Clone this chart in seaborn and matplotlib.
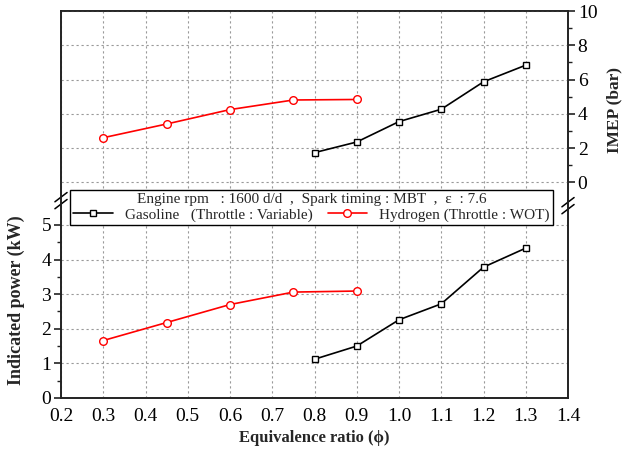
import pandas as pd
import matplotlib
matplotlib.use('Agg')
import matplotlib.pyplot as plt
from matplotlib.lines import Line2D
from matplotlib.ticker import MultipleLocator, FixedLocator
import seaborn as sns

# IMEP (bar), upper part, right axis
imep_h2_phi = [0.3, 0.45, 0.6, 0.75, 0.9]
imep_h2 = [2.61, 3.41, 4.25, 4.81, 4.84]
imep_gas_phi = [0.8, 0.9, 1.0, 1.1, 1.2, 1.3]
imep_gas = [1.74, 2.36, 3.55, 4.27, 5.87, 6.84]

# Indicated power (kW), lower part, left axis
pow_h2_phi = [0.3, 0.45, 0.6, 0.75, 0.9]
pow_h2 = [1.66, 2.18, 2.70, 3.06, 3.09]
pow_gas_phi = [0.8, 0.9, 1.0, 1.1, 1.2, 1.3]
pow_gas = [1.12, 1.50, 2.26, 2.72, 3.78, 4.33]

x_ticks = [0.2, 0.3, 0.4, 0.5, 0.6, 0.7, 0.8, 0.9, 1.0, 1.1, 1.2, 1.3, 1.4]
power_ticks = [0, 1, 2, 3, 4, 5]
imep_ticks = [0, 2, 4, 6, 8, 10]

gas_label = "Gasoline   (Throttle : Variable)"
h2_label = "Hydrogen (Throttle : WOT)"
legend_title = "Engine rpm   : 1600 d/d  ,  Spark timing : MBT  ,  \u03b5  : 7.6"

sns.set_theme(style="white")
plt.rcParams['font.family'] = ['Liberation Serif', 'DejaVu Serif']

gas_style = dict(color='black', marker='s', markersize=5, markerfacecolor='white',
                 markeredgecolor='black', markeredgewidth=1, linewidth=1.2)
h2_style = dict(color='red', marker='o', markersize=5.5, markerfacecolor='white',
                markeredgecolor='red', markeredgewidth=1, linewidth=1.2)

fig = plt.figure(figsize=(6.22, 4.55), dpi=100)
ax = fig.add_axes([61 / 622, 57 / 455, 507 / 622, 387 / 455])
ax2 = ax.twinx()

df_pg = pd.DataFrame({'phi': pow_gas_phi, 'val': pow_gas})
df_ph = pd.DataFrame({'phi': pow_h2_phi, 'val': pow_h2})
df_ig = pd.DataFrame({'phi': imep_gas_phi, 'val': imep_gas})
df_ih = pd.DataFrame({'phi': imep_h2_phi, 'val': imep_h2})

sns.lineplot(data=df_pg, x='phi', y='val', ax=ax, **gas_style)
sns.lineplot(data=df_ph, x='phi', y='val', ax=ax, **h2_style)
sns.lineplot(data=df_ig, x='phi', y='val', ax=ax2, **gas_style)
sns.lineplot(data=df_ih, x='phi', y='val', ax=ax2, **h2_style)

# scales: power 0 at bottom, IMEP 0 just above the legend
ax.set_xlim(0.2, 1.4)
ax.set_ylim(0, 11.18)
ax2.set_ylim(-12.57, 10)

ax.xaxis.set_major_locator(FixedLocator(x_ticks))
ax.xaxis.set_minor_locator(MultipleLocator(0.05))
ax.set_xticklabels([f"{t:.1f}" for t in x_ticks])
ax.yaxis.set_major_locator(FixedLocator(power_ticks))
ax.yaxis.set_minor_locator(FixedLocator([i * 0.5 for i in range(11)]))
ax2.yaxis.set_major_locator(FixedLocator(imep_ticks))
ax2.yaxis.set_minor_locator(FixedLocator(list(range(11))))

for a in (ax, ax2):
    a.tick_params(which='major', direction='out', length=5, width=1.2,
                  labelsize=14, colors='#222222', pad=2)
    a.tick_params(which='minor', direction='out', length=3, width=1.0, colors='#222222')
    for s in a.spines.values():
        s.set_color('#222222')
        s.set_linewidth(1.2)
ax.tick_params(axis='y', right=False)
ax2.tick_params(axis='y', left=False)
for lab in ax.get_xticklabels() + ax.get_yticklabels() + ax2.get_yticklabels():
    lab.set_color('black')

grid_kw = dict(color='#999999', linestyle=(0, (2, 2.5)), linewidth=0.8)
ax.grid(True, axis='x', which='major', **grid_kw)
ax.grid(True, axis='y', which='major', **grid_kw)
ax2.grid(True, axis='y', which='major', **grid_kw)
ax.set_axisbelow(True)
ax2.set_axisbelow(True)

ax.set_xlabel("Equivalence ratio (\u03d5)", fontsize=12, fontweight='bold', labelpad=4)
ax.set_ylabel("Indicated power (kW)", fontsize=13, fontweight='bold')
ax.yaxis.set_label_coords(-0.071, 0.253)
ax2.set_ylabel("IMEP (bar)", fontsize=12.5, fontweight='bold')
ax2.yaxis.set_label_coords(1.075, 0.744)

# axis break marks
for xb, yb in ((0.0, 0.51), (1.0, 0.497)):
    for dy in (-0.009, 0.009):
        ax.plot([xb - 0.012, xb + 0.012], [yb + dy - 0.012, yb + dy + 0.012],
                transform=ax.transAxes, color='black', linewidth=1.1,
                clip_on=False, zorder=10)

handles = [Line2D([], [], **gas_style), Line2D([], [], **h2_style)]
leg = ax2.legend(handles, [gas_label, h2_label], ncol=2, title=legend_title,
                 loc='lower left', mode='expand',
                 bbox_to_anchor=(9 / 507, 173 / 387, 483 / 507, 42 / 387),
                 borderaxespad=0, fontsize=11, title_fontsize=11,
                 frameon=True, fancybox=False, framealpha=1, edgecolor='black',
                 handlelength=2.6, handletextpad=0.8, columnspacing=0.3,
                 borderpad=0.2, labelspacing=0.15)
leg.get_frame().set_linewidth(1.0)
leg.set_zorder(20)

fig.savefig("out.png", dpi=100)
plt.close(fig)
